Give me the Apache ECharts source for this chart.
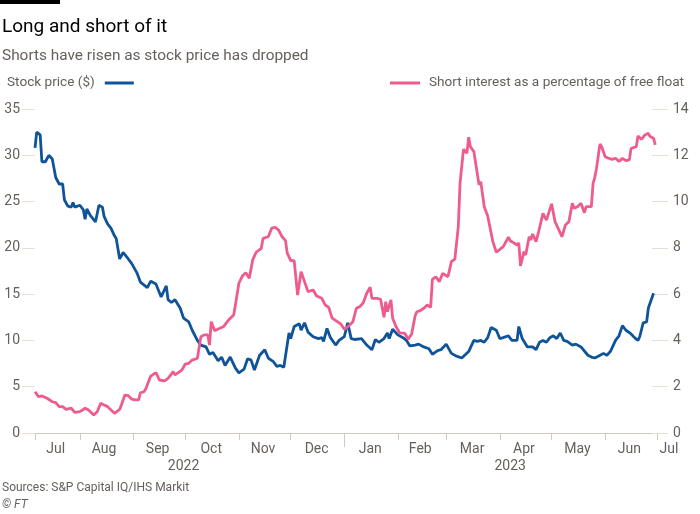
<!DOCTYPE html>
<html>
<head>
<meta charset="utf-8">
<script src="https://cdn.jsdelivr.net/npm/echarts@6/dist/echarts.min.js"></script>
<style>
html,body{margin:0;padding:0;background:#fff;}
#c{width:700px;height:514px;}
</style>
</head>
<body>
<div id="c"></div>
<script>
// ---------- DATA ----------
const stockDates = ['2022-07-06','2022-07-07','2022-07-09','2022-07-10','2022-07-12','2022-07-14','2022-07-16','2022-07-18','2022-07-20','2022-07-22','2022-07-23','2022-07-25','2022-07-27','2022-07-28','2022-07-29',
'2022-08-01','2022-08-03','2022-08-04','2022-08-05','2022-08-07','2022-08-10','2022-08-11','2022-08-12','2022-08-14','2022-08-15','2022-08-17','2022-08-19','2022-08-21','2022-08-22','2022-08-24','2022-08-26','2022-08-29','2022-08-31',
'2022-09-01','2022-09-03','2022-09-05','2022-09-07','2022-09-09','2022-09-11','2022-09-14','2022-09-17','2022-09-20','2022-09-21','2022-09-23','2022-09-25','2022-09-28','2022-09-30',
'2022-10-03','2022-10-05','2022-10-08','2022-10-10','2022-10-13','2022-10-15','2022-10-17','2022-10-20','2022-10-22','2022-10-24','2022-10-27','2022-10-30',
'2022-11-01','2022-11-04','2022-11-06','2022-11-08','2022-11-10','2022-11-13','2022-11-16','2022-11-18','2022-11-21','2022-11-23','2022-11-25','2022-11-27','2022-11-28','2022-11-30',
'2022-12-01','2022-12-03','2022-12-04','2022-12-06','2022-12-07','2022-12-09','2022-12-11','2022-12-14','2022-12-17','2022-12-19','2022-12-20','2022-12-22','2022-12-24','2022-12-27','2022-12-29',
'2023-01-01','2023-01-03','2023-01-04','2023-01-05','2023-01-07','2023-01-11','2023-01-14','2023-01-17','2023-01-19','2023-01-21','2023-01-24','2023-01-26','2023-01-27','2023-01-29',
'2023-02-01','2023-02-04','2023-02-06','2023-02-08','2023-02-11','2023-02-13','2023-02-16','2023-02-19','2023-02-21','2023-02-24','2023-02-26',
'2023-03-01','2023-03-04','2023-03-07','2023-03-10','2023-03-14','2023-03-17','2023-03-19','2023-03-21','2023-03-23','2023-03-25','2023-03-27','2023-03-30',
'2023-04-01','2023-04-03','2023-04-06','2023-04-08','2023-04-11','2023-04-12','2023-04-14','2023-04-17','2023-04-20','2023-04-22','2023-04-24','2023-04-26','2023-04-28','2023-04-30',
'2023-05-02','2023-05-04','2023-05-06','2023-05-08','2023-05-10','2023-05-13','2023-05-15','2023-05-18','2023-05-19','2023-05-22','2023-05-24','2023-05-26','2023-05-28','2023-05-31',
'2023-06-02','2023-06-04','2023-06-07','2023-06-09','2023-06-11','2023-06-13','2023-06-16','2023-06-18','2023-06-20','2023-06-21','2023-06-23','2023-06-25','2023-06-26','2023-06-29'];
const stockPrice = [30.8,32.5,32.2,29.3,29.3,30.0,29.6,27.6,26.9,26.9,25.2,24.5,24.4,24.9,24.4,
24.6,24.1,23.1,24.2,23.5,22.8,22.9,24.6,24.4,23.4,22.6,22.1,21.3,21.0,18.8,19.5,18.8,18.3,
18.5,17.3,16.3,16.0,15.7,16.4,16.1,14.7,15.9,14.4,14.1,14.4,13.5,12.4,
12.0,11.1,10.0,9.5,9.3,8.5,8.7,7.8,8.2,7.3,8.2,7.0,
6.5,6.9,8.0,7.9,6.8,8.4,9.0,8.1,7.7,7.2,7.3,7.1,7.3,10.8,
10.2,11.5,11.4,11.8,11.1,11.9,10.9,10.4,10.2,10.3,9.9,11.3,10.3,9.5,10.0,
10.4,11.9,12.0,10.2,10.1,10.2,9.5,9.0,10.1,9.8,10.2,10.8,10.2,11.2,
10.6,10.3,10.0,9.4,9.5,9.6,9.3,9.1,8.5,8.9,9.0,
9.6,8.6,8.3,8.1,8.8,10.0,9.9,10.0,9.8,10.3,11.4,11.1,
10.2,10.3,10.5,10.0,10.0,11.5,10.2,9.3,9.3,9.0,9.8,10.0,9.8,10.3,
10.5,10.2,10.8,10.0,9.9,9.5,9.6,9.3,9.5,8.4,8.2,8.1,8.3,8.6,
8.4,8.8,10.0,10.5,11.6,11.1,10.7,10.3,10.0,10.4,11.9,12.0,13.5,15.1];

const shortDates = ['2022-07-06','2022-07-08','2022-07-10','2022-07-13','2022-07-16','2022-07-18','2022-07-20','2022-07-22','2022-07-24','2022-07-27','2022-07-29',
'2022-08-01','2022-08-04','2022-08-06','2022-08-09','2022-08-11','2022-08-13','2022-08-15','2022-08-17','2022-08-19','2022-08-21','2022-08-24','2022-08-25','2022-08-27','2022-08-29','2022-08-31',
'2022-09-02','2022-09-04','2022-09-05','2022-09-07','2022-09-08','2022-09-09','2022-09-11','2022-09-14','2022-09-16','2022-09-19','2022-09-21','2022-09-24','2022-09-25','2022-09-29',
'2022-10-01','2022-10-03','2022-10-05','2022-10-08','2022-10-10','2022-10-12','2022-10-14','2022-10-15','2022-10-16','2022-10-18','2022-10-20','2022-10-23','2022-10-26','2022-10-29','2022-10-30',
'2022-11-01','2022-11-03','2022-11-05','2022-11-07','2022-11-09','2022-11-11','2022-11-14','2022-11-15','2022-11-18','2022-11-20','2022-11-22','2022-11-24','2022-11-26','2022-11-28','2022-11-29',
'2022-12-01','2022-12-03','2022-12-05','2022-12-07','2022-12-09','2022-12-11','2022-12-14','2022-12-16','2022-12-19','2022-12-21','2022-12-23','2022-12-25','2022-12-28','2022-12-30',
'2023-01-01','2023-01-03','2023-01-06','2023-01-08','2023-01-10','2023-01-12','2023-01-14','2023-01-16','2023-01-17','2023-01-20','2023-01-22','2023-01-24','2023-01-25','2023-01-26','2023-01-28','2023-01-29','2023-01-31',
'2023-02-02','2023-02-05','2023-02-07','2023-02-09','2023-02-11','2023-02-12','2023-02-14','2023-02-16','2023-02-18','2023-02-20','2023-02-21','2023-02-23','2023-02-25','2023-02-27',
'2023-03-02','2023-03-04','2023-03-06','2023-03-08','2023-03-09','2023-03-11','2023-03-12','2023-03-13','2023-03-14','2023-03-15','2023-03-17','2023-03-18','2023-03-20','2023-03-21','2023-03-23','2023-03-25','2023-03-26','2023-03-28','2023-03-30','2023-03-31',
'2023-04-03','2023-04-04','2023-04-06','2023-04-07','2023-04-09','2023-04-11','2023-04-12','2023-04-13','2023-04-15','2023-04-16','2023-04-18','2023-04-19','2023-04-20','2023-04-22','2023-04-24','2023-04-26','2023-04-28',
'2023-05-01','2023-05-03','2023-05-04','2023-05-07','2023-05-09','2023-05-11','2023-05-13','2023-05-14','2023-05-16','2023-05-18','2023-05-20','2023-05-21','2023-05-24','2023-05-25','2023-05-26','2023-05-27','2023-05-29','2023-05-30',
'2023-06-01','2023-06-03','2023-06-05','2023-06-07','2023-06-09','2023-06-11','2023-06-13','2023-06-15','2023-06-16','2023-06-19','2023-06-20','2023-06-22','2023-06-24','2023-06-26','2023-06-27','2023-06-29','2023-06-30'];
const shortInterest = [1.78,1.57,1.60,1.50,1.35,1.31,1.14,1.14,1.02,1.07,0.89,
0.92,1.07,0.99,0.78,0.92,1.28,1.21,1.14,0.99,0.85,1.02,1.21,1.64,1.61,1.46,
1.43,1.43,1.74,1.78,1.89,1.93,2.46,2.61,2.29,2.25,2.36,2.65,2.51,2.72,
2.98,3.01,3.15,3.23,4.16,4.24,4.24,3.80,4.81,4.42,4.49,4.59,4.88,5.10,5.53,
6.47,6.78,6.93,6.69,7.48,7.81,7.98,8.41,8.48,8.85,8.89,8.77,8.48,8.31,7.77,
7.45,7.45,5.96,6.97,6.54,6.11,6.18,5.92,5.82,5.53,5.43,4.96,4.81,4.71,
4.48,4.59,4.81,5.39,5.46,5.63,6.04,6.30,5.82,5.82,5.78,5.00,5.67,5.24,5.75,4.96,4.59,
4.33,4.31,4.05,4.28,5.06,5.24,5.29,5.39,5.53,5.43,6.64,6.75,6.54,6.90,
6.75,7.40,7.51,8.92,10.79,12.26,12.23,12.09,12.78,12.37,12.16,12.09,10.72,10.86,9.78,9.38,9.32,8.27,7.81,7.77,
8.05,8.12,8.46,8.31,8.22,8.12,8.22,7.22,7.84,7.69,8.48,8.34,8.60,8.27,8.85,9.49,9.20,
9.90,9.13,9.09,8.48,8.99,9.13,9.93,9.71,9.78,9.93,9.52,9.78,9.78,10.79,11.05,11.44,12.49,12.37,
11.94,11.87,11.82,11.87,11.73,11.87,11.77,11.80,12.30,12.37,12.83,12.69,12.88,12.95,12.81,12.74,12.45];

const monthTickDates = ['2022-07-06','2022-08-01','2022-09-01','2022-10-01','2022-11-01','2022-12-01','2023-02-01','2023-03-01','2023-04-01','2023-05-01','2023-06-01','2023-07-01'];
const yearTickDates = ['2023-01-01'];
const monthLabelDates = ['2022-07-18','2022-08-15','2022-09-15','2022-10-16','2022-11-15','2022-12-16','2023-01-16','2023-02-14','2023-03-16','2023-04-15','2023-05-16','2023-06-15','2023-07-01'];
const monthLabels = ['Jul','Aug','Sep','Oct','Nov','Dec','Jan','Feb','Mar','Apr','May','Jun','Jul'];
const yearLabelDates = ['2022-09-30','2023-04-07'];
const yearLabels = ['2022','2023'];
const axisStart = '2022-07-06';
const axisEnd = '2023-07-01';
const leftTicks = [0,5,10,15,20,25,30,35];
const rightTicks = [0,2,4,6,8,10,12,14];

// ---------- HELPERS ----------
const t = s => { const p = s.split('-').map(Number); return Date.UTC(p[0], p[1]-1, p[2]); };
const FONT = 'Roboto';
const GREY = '#66605c';
const AXIS = '#d3c9bf';
const TICK = '#e8e0d7';
const BLUE = '#0f5499';
const PINK = '#ee5b8e';

const monthTimes = monthLabelDates.map(t);
const yearTimes = yearLabelDates.map(t);

const chart = echarts.init(document.getElementById('c'), null, {renderer: 'canvas'});
chart.setOption({
  animation: false,
  backgroundColor: '#fff',
  textStyle: {fontFamily: FONT},
  graphic: [
    {type: 'rect', left: 0, top: 0, shape: {width: 60, height: 4}, style: {fill: '#000'}},
    {type: 'text', x: 2, y: 27, style: {text: 'Long and short of it', fill: '#000', font: '19px ' + FONT, verticalAlign: 'middle'}},
    {type: 'text', x: 2, y: 56, style: {text: 'Shorts have risen as stock price has dropped', fill: GREY, font: '15.4px ' + FONT, verticalAlign: 'middle'}},
    {type: 'text', x: 2, y: 488, style: {text: 'Sources: S&P Capital IQ/IHS Markit', fill: GREY, font: '12px ' + FONT, verticalAlign: 'middle'}},
    {type: 'text', x: 2, y: 505, style: {text: '© FT', fill: GREY, font: 'italic 12px ' + FONT, verticalAlign: 'middle'}}
  ],
  legend: [
    {left: 2, top: 71, align: 'right', icon: 'rect', itemWidth: 29, itemHeight: 3,
     data: ['Stock price ($)'], textStyle: {color: GREY, fontSize: 13.6, fontFamily: FONT, padding: [0, 5, 0, 0]}, selectedMode: false},
    {right: 11, top: 71, icon: 'rect', itemWidth: 30, itemHeight: 3,
     data: ['Short interest as a percentage of free float'], textStyle: {color: GREY, fontSize: 13.6, fontFamily: FONT, padding: [0, 0, 0, 4]}, selectedMode: false}
  ],
  grid: {left: 35, right: 43, top: 109, bottom: 81, containLabel: false},
  xAxis: [
    {type: 'value', min: t(axisStart), max: t(axisEnd), position: 'bottom',
     axisLine: {show: true, lineStyle: {color: AXIS, width: 1}},
     axisTick: {show: true, length: 7, lineStyle: {color: AXIS}, customValues: monthTickDates.map(t)},
     splitLine: {show: false},
     axisLabel: {show: true, color: GREY, fontSize: 14, fontFamily: FONT, margin: 9,
       customValues: monthTimes,
       formatter: function (v) {
         const i = monthTimes.indexOf(v);
         if (i === monthTimes.length - 1) return '{last|' + monthLabels[i] + '}';
         return i >= 0 ? monthLabels[i] : '';
       },
       rich: {last: {color: GREY, fontSize: 14, fontFamily: FONT, padding: [0, 0, 0, 24]}}
     }},
    {type: 'value', min: t(axisStart), max: t(axisEnd), position: 'bottom',
     axisLine: {show: false},
     axisTick: {show: true, length: 14, lineStyle: {color: AXIS}, customValues: yearTickDates.map(t)},
     splitLine: {show: false},
     axisLabel: {show: true, color: GREY, fontSize: 14, fontFamily: FONT, margin: 26,
       customValues: yearTimes,
       formatter: function (v) { const i = yearTimes.indexOf(v); return i >= 0 ? yearLabels[i] : ''; }
     }}
  ],
  yAxis: [
    {type: 'value', min: leftTicks[0], max: leftTicks[leftTicks.length - 1], interval: leftTicks[1] - leftTicks[0], position: 'left',
     axisLine: {show: false}, splitLine: {show: false},
     axisTick: {show: true, length: 13, lineStyle: {color: TICK}},
     axisLabel: {color: GREY, fontSize: 14, fontFamily: FONT, margin: 15}},
    {type: 'value', min: rightTicks[0], max: rightTicks[rightTicks.length - 1], interval: rightTicks[1] - rightTicks[0], position: 'right', offset: -5,
     axisLine: {show: false}, splitLine: {show: false},
     axisTick: {show: true, length: 16, lineStyle: {color: TICK}},
     axisLabel: {color: GREY, fontSize: 14, fontFamily: FONT, margin: 21}}
  ],
  series: [
    {name: 'Stock price ($)', type: 'line', xAxisIndex: 0, yAxisIndex: 0, showSymbol: false, symbol: 'none',
     lineStyle: {color: BLUE, width: 2.8}, itemStyle: {color: BLUE},
     data: stockDates.map((d, i) => [t(d), stockPrice[i]])},
    {name: 'Short interest as a percentage of free float', type: 'line', xAxisIndex: 0, yAxisIndex: 1, showSymbol: false, symbol: 'none',
     lineStyle: {color: PINK, width: 2.8}, itemStyle: {color: PINK},
     data: shortDates.map((d, i) => [t(d), shortInterest[i]])}
  ]
});
</script>
</body>
</html>
